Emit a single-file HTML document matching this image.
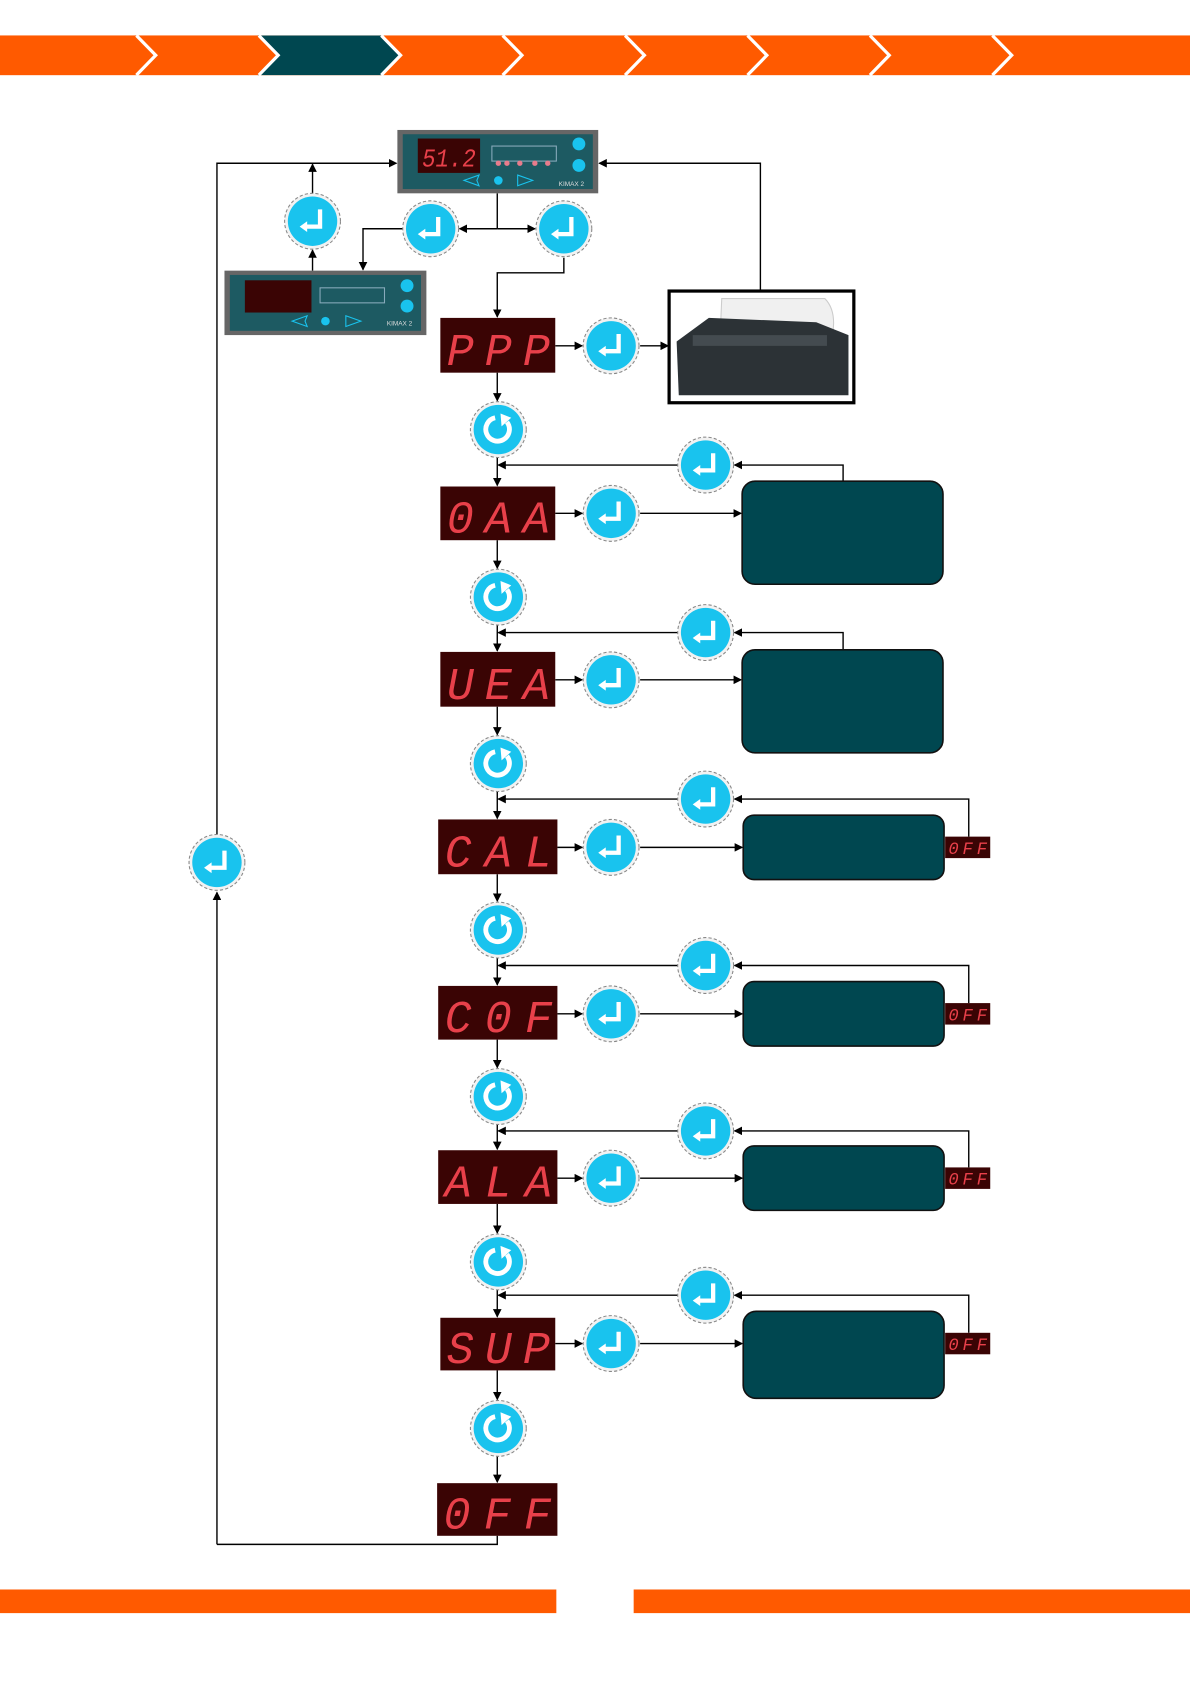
<!DOCTYPE html>
<html><head><meta charset="utf-8"><style>
html,body{margin:0;padding:0;background:#fff;}
svg{display:block;}
.seg{font-family:"Liberation Mono",monospace;font-style:italic;fill:#e8404a;}
</style></head><body>
<svg width="1190" height="1684" viewBox="0 0 1108 1568" preserveAspectRatio="none" xmlns="http://www.w3.org/2000/svg">
<defs>
<marker id="a" markerWidth="8" markerHeight="8" refX="7" refY="4" orient="auto" markerUnits="userSpaceOnUse"><path d="M0,0 L8,4 L0,8 z" fill="#000"/></marker>
<g id="ent">
<circle r="26" fill="#f2f2f2" stroke="#888" stroke-width="1" stroke-dasharray="3 2"/>
<circle r="23" fill="#19c3ee"/>
<path d="M7,-11 L7,5 L-6,5" fill="none" stroke="#fff" stroke-width="4"/>
<path d="M-12,5 L-5,0 L-5,10 z" fill="#fff"/>
</g>
<g id="rot">
<circle r="26" fill="#f2f2f2" stroke="#888" stroke-width="1" stroke-dasharray="3 2"/>
<circle r="23" fill="#19c3ee"/>
<path d="M-3,-11 A11,11 0 1 0 8,-7" fill="none" stroke="#fff" stroke-width="4.5"/>
<path d="M2,-15 L12,-11 L3,-3 z" fill="#fff"/>
</g>
<g id="off">
<rect width="42" height="20" fill="#3a0404"/>
<text x="3" y="16" class="seg" font-size="16" textLength="36" lengthAdjust="spacing">0FF</text>
</g>
</defs>

<rect x="0" y="33" width="1108" height="37" fill="#ff5a00"/>
<polygon points="240,33 355,33 373,51.5 355,70 240,70 258,51.5" fill="#004750"/>
<g stroke="#fff" stroke-width="3" fill="none">
<path d="M127,33 L145,51.5 L127,70"/><path d="M241,33 L259,51.5 L241,70"/><path d="M355,33 L373,51.5 L355,70"/><path d="M468,33 L486,51.5 L468,70"/><path d="M582,33 L600,51.5 L582,70"/><path d="M696,33 L714,51.5 L696,70"/><path d="M810,33 L828,51.5 L810,70"/><path d="M924,33 L942,51.5 L924,70"/>
</g>
<rect x="0" y="1480" width="518" height="22" fill="#ff5a00"/>
<rect x="590" y="1480" width="518" height="22" fill="#ff5a00"/>

<g stroke="#000" stroke-width="1.3" fill="none">
<path d="M202,1438 L202,831" marker-end="url(#a)"/>
<path d="M202,777 L202,152 L369,152" marker-end="url(#a)"/>
<path d="M291,180 L291,153" marker-end="url(#a)"/>
<path d="M291,252 L291,233" marker-end="url(#a)"/>
<path d="M463,180 L463,213"/>
<path d="M463,213 L428,213" marker-end="url(#a)"/>
<path d="M463,213 L498,213" marker-end="url(#a)"/>
<path d="M375,213 L338,213 L338,251" marker-end="url(#a)"/>
<path d="M525,240 L525,254 L463,254 L463,295" marker-end="url(#a)"/>
<path d="M708,271 L708,152 L558,152" marker-end="url(#a)"/>
<path d="M517,322 L542,322" marker-end="url(#a)"/>
<path d="M596,322 L622,322" marker-end="url(#a)"/>
<path d="M463,347 L463,373" marker-end="url(#a)"/>
<path d="M463,1430 L463,1438 L202,1438"/>
</g>

<g>
<rect x="370" y="121" width="187" height="59" fill="#666"/>
<rect x="375" y="125" width="177" height="51" fill="#1d5a62"/>
<rect x="389" y="129" width="58" height="32" fill="#3a0404"/>
<text x="393" y="155" class="seg" font-size="24" textLength="50" lengthAdjust="spacingAndGlyphs">51.2</text>
<rect x="458" y="136" width="60" height="14" fill="none" stroke="#8ab" stroke-width="1"/>
<g fill="#e87c8c"><circle cx="464" cy="152" r="2.5"/><circle cx="472" cy="152" r="2.5"/><circle cx="484" cy="152" r="2.5"/><circle cx="498" cy="152" r="2.5"/><circle cx="510" cy="152" r="2.5"/></g>
<circle cx="539" cy="134" r="6" fill="#19c3ee"/><circle cx="539" cy="154" r="6" fill="#19c3ee"/>
<circle cx="464" cy="168" r="4" fill="#19c3ee"/>
<path d="M432,168 L446,163 L444,168 L446,173 z M482,163 L496,168 L482,173 z" fill="none" stroke="#19c3ee"/>
<text x="532" y="173" font-family="Liberation Sans" font-size="6" fill="#ddd" text-anchor="middle">KIMAX 2</text>
</g>
<g>
<rect x="209" y="252" width="188" height="60" fill="#666"/>
<rect x="214" y="256" width="178" height="52" fill="#1d5a62"/>
<rect x="228" y="261" width="62" height="30" fill="#3a0404"/>
<rect x="298" y="268" width="60" height="14" fill="none" stroke="#8ab" stroke-width="1"/>
<circle cx="379" cy="266" r="6" fill="#19c3ee"/><circle cx="379" cy="285" r="6" fill="#19c3ee"/>
<circle cx="303" cy="299" r="4" fill="#19c3ee"/>
<path d="M272,299 L286,294 L284,299 L286,304 z M322,294 L336,299 L322,304 z" fill="none" stroke="#19c3ee"/>
<text x="372" y="303" font-family="Liberation Sans" font-size="6" fill="#ddd" text-anchor="middle">KIMAX 2</text>
</g>
<rect x="623" y="271" width="172" height="104" fill="#fff" stroke="#000" stroke-width="3"/>
<path d="M672,278 L768,278 Q782,292 772,325 L670,325 z" fill="#f0f0f0" stroke="#ccc"/>
<path d="M630,318 L660,296 L760,300 L790,312 L790,368 L632,368 z" fill="#2c3236"/>
<path d="M645,312 L770,312 L770,322 L645,322 z" fill="#444b50"/>

<use href="#ent" x="291" y="206"/>
<use href="#ent" x="401" y="213"/>
<use href="#ent" x="525" y="213"/>
<use href="#ent" x="569" y="322"/>
<use href="#ent" x="202" y="803"/>

<rect x="410" y="296" width="107" height="51" fill="#3a0404"/>
<text x="416" y="340" class="seg" font-size="42" textLength="96" lengthAdjust="spacing">PPP</text>

<g stroke="#000" stroke-width="1.3" fill="none">
<path d="M463,426 L463,452" marker-end="url(#a)"/><path d="M463,503 L463,529" marker-end="url(#a)"/>
<path d="M463,582 L463,606" marker-end="url(#a)"/><path d="M463,658 L463,684" marker-end="url(#a)"/>
<path d="M463,737 L463,762" marker-end="url(#a)"/><path d="M463,814 L463,839" marker-end="url(#a)"/>
<path d="M463,892 L463,917" marker-end="url(#a)"/><path d="M463,968 L463,994" marker-end="url(#a)"/>
<path d="M463,1047 L463,1070" marker-end="url(#a)"/><path d="M463,1121 L463,1148" marker-end="url(#a)"/>
<path d="M463,1201 L463,1226" marker-end="url(#a)"/><path d="M463,1276 L463,1303" marker-end="url(#a)"/>
<path d="M463,1356 L463,1380" marker-end="url(#a)"/>
<path d="M517,478 L542,478" marker-end="url(#a)"/><path d="M596,478 L690,478" marker-end="url(#a)"/>
<path d="M517,633 L542,633" marker-end="url(#a)"/><path d="M596,633 L690,633" marker-end="url(#a)"/>
<path d="M519,789 L542,789" marker-end="url(#a)"/><path d="M596,789 L691,789" marker-end="url(#a)"/>
<path d="M519,944 L542,944" marker-end="url(#a)"/><path d="M596,944 L691,944" marker-end="url(#a)"/>
<path d="M519,1097 L542,1097" marker-end="url(#a)"/><path d="M596,1097 L691,1097" marker-end="url(#a)"/>
<path d="M517,1251 L542,1251" marker-end="url(#a)"/><path d="M596,1251 L691,1251" marker-end="url(#a)"/>
<path d="M785,448 L785,433 L684,433" marker-end="url(#a)"/><path d="M631,433 L464,433" marker-end="url(#a)"/>
<path d="M785,605 L785,589 L684,589" marker-end="url(#a)"/><path d="M631,589 L464,589" marker-end="url(#a)"/>
<path d="M902,779 L902,744 L684,744" marker-end="url(#a)"/><path d="M631,744 L464,744" marker-end="url(#a)"/>
<path d="M902,934 L902,899 L684,899" marker-end="url(#a)"/><path d="M631,899 L464,899" marker-end="url(#a)"/>
<path d="M902,1087 L902,1053 L684,1053" marker-end="url(#a)"/><path d="M631,1053 L464,1053" marker-end="url(#a)"/>
<path d="M902,1241 L902,1206 L684,1206" marker-end="url(#a)"/><path d="M631,1206 L464,1206" marker-end="url(#a)"/>
</g>

<use href="#rot" x="464" y="400"/><use href="#rot" x="464" y="556"/><use href="#rot" x="464" y="711"/>
<use href="#rot" x="464" y="866"/><use href="#rot" x="464" y="1021"/><use href="#rot" x="464" y="1175"/><use href="#rot" x="464" y="1330"/>

<use href="#ent" x="569" y="478"/><use href="#ent" x="569" y="633"/><use href="#ent" x="569" y="789"/>
<use href="#ent" x="569" y="944"/><use href="#ent" x="569" y="1097"/><use href="#ent" x="569" y="1251"/>
<use href="#ent" x="657" y="433"/><use href="#ent" x="657" y="589"/><use href="#ent" x="657" y="744"/>
<use href="#ent" x="657" y="899"/><use href="#ent" x="657" y="1053"/><use href="#ent" x="657" y="1206"/>

<g fill="#3a0404">
<rect x="410" y="453" width="107" height="50"/><rect x="410" y="607" width="107" height="51"/>
<rect x="408" y="763" width="111" height="51"/><rect x="408" y="918" width="111" height="50"/>
<rect x="408" y="1071" width="111" height="50"/><rect x="410" y="1227" width="107" height="49"/>
<rect x="407" y="1381" width="112" height="49"/>
</g>
<g class="seg" font-size="42">
<text x="416" y="496" textLength="96" lengthAdjust="spacing">0AA</text>
<text x="416" y="651" textLength="96" lengthAdjust="spacing">UEA</text>
<text x="414" y="807" textLength="100" lengthAdjust="spacing">CAL</text>
<text x="414" y="961" textLength="100" lengthAdjust="spacing">C0F</text>
<text x="414" y="1114" textLength="100" lengthAdjust="spacing">ALA</text>
<text x="416" y="1269" textLength="96" lengthAdjust="spacing">SUP</text>
<text x="413" y="1423" textLength="100" lengthAdjust="spacing">0FF</text>
</g>

<g fill="#004750" stroke="#111" stroke-width="1.5">
<rect x="691" y="448" width="187" height="96" rx="12"/>
<rect x="691" y="605" width="187" height="96" rx="12"/>
<rect x="692" y="759" width="187" height="60" rx="10"/>
<rect x="692" y="914" width="187" height="60" rx="10"/>
<rect x="692" y="1067" width="187" height="60" rx="10"/>
<rect x="692" y="1221" width="187" height="81" rx="12"/>
</g>
<use href="#off" x="880" y="779"/><use href="#off" x="880" y="934"/>
<use href="#off" x="880" y="1087"/><use href="#off" x="880" y="1241"/>
</svg>
</body></html>
